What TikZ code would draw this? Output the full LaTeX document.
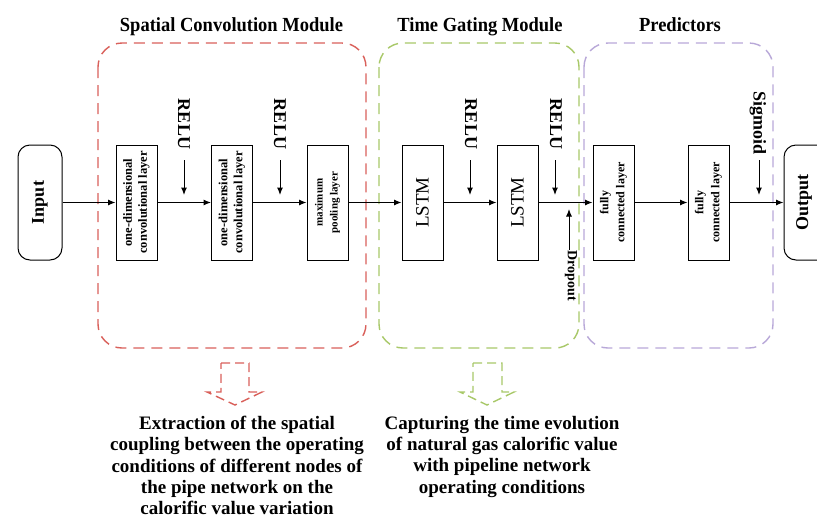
\documentclass[tikz,border=0pt]{standalone}
\usepackage{fontspec}
\setmainfont{Liberation Serif}
\usetikzlibrary{arrows.meta}

\definecolor{convred}{HTML}{D9605A}
\definecolor{gategreen}{HTML}{A8C868}
\definecolor{predpurple}{HTML}{B8A8D8}

\newcommand{\narrowtitle}[1]{\scalebox{0.925}[1]{#1}}

\tikzset{
  modframe/.style={line width=1.4pt, dash pattern=on 11pt off 7pt, rounded corners=24pt},
  layerbox/.style={draw, line width=1pt, minimum width=41pt, minimum height=115pt, inner sep=0pt},
  endbox/.style={draw, line width=1pt, rounded corners=12pt, minimum width=44pt, minimum height=115pt, inner sep=0pt},
  flow/.style={line width=1pt, -{Latex[length=7.5pt,width=6pt]}},
  actlabel/.style={font=\fontsize{18}{20}\selectfont\bfseries, rotate=-90, inner sep=0pt},
  boxtext/.style={font=\fontsize{12.5}{15}\selectfont\bfseries, rotate=90, align=center, inner sep=0pt},
  title/.style={font=\fontsize{20}{22}\selectfont\bfseries, inner sep=0pt, anchor=base},
  note/.style={font=\fontsize{19}{21.3}\selectfont\bfseries, align=center, inner sep=0pt},
  hollowarrow/.style={line width=1.4pt, dash pattern=on 9pt off 5pt}
}

\begin{document}
\begin{tikzpicture}[x=1pt, y=-1pt]
\useasboundingbox (0,0) rectangle (817,520);
\clip (0,0) rectangle (817,520);

% module frames
\draw[modframe, convred] (98,43) rectangle (366,348);
\draw[modframe, gategreen] (379,43) rectangle (579,348);
\draw[modframe, predpurple] (584,43) rectangle (773,348);

% module titles
\node[title] (t1) at (231.5,31) {\narrowtitle{Spatial Convolution Module}};
\node[title] (t2) at (480,31) {\narrowtitle{Time Gating Module}};
\node[title] (t3) at (680,31) {\narrowtitle{Predictors}};

% input / output
\node[endbox] (in) at (40,202.5) {};
\node[rotate=90, font=\fontsize{18}{20}\selectfont\bfseries] at (in.center) {Input};
\node[endbox, minimum width=46pt] (out) at (807,202.5) {};
\node[rotate=90, font=\fontsize{18}{20}\selectfont\bfseries] (outtxt) at (804,202.5) {Output};

% layers
\node[layerbox] (c1) at (136.5,202.5) {};
\node[boxtext] at (c1.center) {one-dimensional\\convolutional layer};
\node[layerbox] (c2) at (232,202.5) {};
\node[boxtext] at (c2.center) {one-dimensional\\convolutional layer};
\node[layerbox] (mp) at (327.5,202.5) {};
\node[boxtext, font=\fontsize{11}{15}\selectfont\bfseries] at (mp.center) {maximum\\pooling layer};
\node[layerbox] (l1) at (422.5,202.5) {};
\node[rotate=90, font=\fontsize{19}{21}\selectfont] at (l1.center) {LSTM};
\node[layerbox] (l2) at (517.5,202.5) {};
\node[rotate=90, font=\fontsize{19}{21}\selectfont] at (l2.center) {LSTM};
\node[layerbox] (f1) at (613.5,202.5) {};
\node[boxtext, font=\fontsize{12}{16}\selectfont\bfseries] at (f1.center) {fully\\connected layer};
\node[layerbox] (f2) at (708.5,202.5) {};
\node[boxtext, font=\fontsize{12}{16}\selectfont\bfseries] at (f2.center) {fully\\connected layer};

% data flow
\draw[flow] (in.east) -- (c1.west);
\draw[flow] (c1.east) -- (c2.west);
\draw[flow] (c2.east) -- (mp.west);
\draw[flow] (mp.east) -- (l1.west);
\draw[flow] (l1.east) -- (l2.west);
\draw[flow] (l2.east) -- (f1.west);
\draw[flow] (f1.east) -- (f2.west);
\draw[flow] (f2.east) -- (out.west);

% activations
\node[actlabel] (r1) at (184,124) {RELU};
\coordinate (r1e) at (184,195);
\draw[flow] (184,160) -- (r1e);
\node[actlabel] (r2) at (280,124) {RELU};
\coordinate (r2e) at (280,195);
\draw[flow] (280,160) -- (r2e);
\node[actlabel] (r3) at (471,124) {RELU};
\coordinate (r3e) at (470,195);
\draw[flow] (470,160) -- (r3e);
\node[actlabel] (r4) at (556,124) {RELU};
\coordinate (r4e) at (555,195);
\draw[flow] (555,160) -- (r4e);
\node[actlabel] (sg) at (758,123) {Sigmoid};
\coordinate (sge) at (759,195);
\draw[flow] (759,160) -- (sge);
\node[actlabel, font=\fontsize{14}{16}\selectfont\bfseries] (dp) at (571,276) {Dropout};
\coordinate (dpe) at (569,209);
\draw[flow] (569,250) -- (dpe);

% hollow pointers to the notes
\draw[hollowarrow, convred] (221,363) -- (249,363) -- (249,392) -- (262,392) -- (235,405) -- (207,392) -- (221,392) -- cycle;
\draw[hollowarrow, gategreen] (473,363) -- (502,363) -- (502,392) -- (514,392) -- (487,405) -- (460,392) -- (473,392) -- cycle;

% notes
\node[note, anchor=north] (n1) at (237,416) {Extraction of the spatial\\coupling between the operating\\conditions of different nodes of\\the pipe network on the\\calorific value variation};
\node[note, anchor=north] (n2) at (502,416) {Capturing the time evolution\\of natural gas calorific value\\with pipeline network\\operating conditions};
\end{tikzpicture}
\end{document}
